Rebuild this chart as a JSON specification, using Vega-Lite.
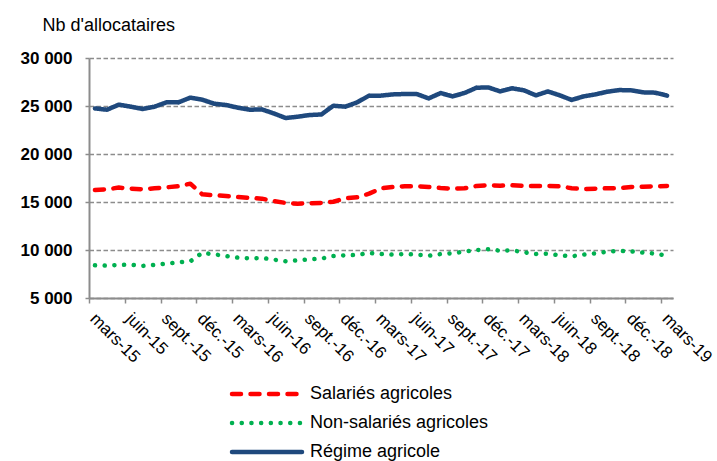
{
  "$schema": "https://vega.github.io/schema/vega-lite/v6.json",
  "autosize": "none",
  "width": 584,
  "height": 240,
  "padding": {"left": 89, "top": 58, "right": 44, "bottom": 163},
  "background": "white",
  "config": {
    "font": "Liberation Sans",
    "view": {"stroke": null}
  },
  "data": {
    "values": [
      {"mois": "mars-15", "Salariés agricoles": 16250, "Non-salariés agricoles": 8400, "Régime agricole": 24750},
      {"mois": "avr.-15", "Salariés agricoles": 16320, "Non-salariés agricoles": 8370, "Régime agricole": 24610},
      {"mois": "mai-15", "Salariés agricoles": 16500, "Non-salariés agricoles": 8440, "Régime agricole": 25140},
      {"mois": "juin-15", "Salariés agricoles": 16390, "Non-salariés agricoles": 8470, "Régime agricole": 24930},
      {"mois": "juil.-15", "Salariés agricoles": 16320, "Non-salariés agricoles": 8340, "Régime agricole": 24690},
      {"mois": "août-15", "Salariés agricoles": 16430, "Non-salariés agricoles": 8450, "Régime agricole": 24930},
      {"mois": "sept.-15", "Salariés agricoles": 16530, "Non-salariés agricoles": 8580, "Régime agricole": 25380},
      {"mois": "oct.-15", "Salariés agricoles": 16640, "Non-salariés agricoles": 8720, "Régime agricole": 25380},
      {"mois": "nov.-15", "Salariés agricoles": 16910, "Non-salariés agricoles": 8820, "Régime agricole": 25870},
      {"mois": "déc.-15", "Salariés agricoles": 15800, "Non-salariés agricoles": 9700, "Régime agricole": 25660},
      {"mois": "janv.-16", "Salariés agricoles": 15700, "Non-salariés agricoles": 9550, "Régime agricole": 25240},
      {"mois": "févr.-16", "Salariés agricoles": 15630, "Non-salariés agricoles": 9370, "Régime agricole": 25100},
      {"mois": "mars-16", "Salariés agricoles": 15520, "Non-salariés agricoles": 9200, "Régime agricole": 24820},
      {"mois": "avr.-16", "Salariés agricoles": 15420, "Non-salariés agricoles": 9130, "Régime agricole": 24610},
      {"mois": "mai-16", "Salariés agricoles": 15350, "Non-salariés agricoles": 9170, "Régime agricole": 24650},
      {"mois": "juin-16", "Salariés agricoles": 15100, "Non-salariés agricoles": 9000, "Régime agricole": 24230},
      {"mois": "juil.-16", "Salariés agricoles": 14900, "Non-salariés agricoles": 8820, "Régime agricole": 23750},
      {"mois": "août-16", "Salariés agricoles": 14830, "Non-salariés agricoles": 8920, "Régime agricole": 23880},
      {"mois": "sept.-16", "Salariés agricoles": 14860, "Non-salariés agricoles": 9030, "Régime agricole": 24060},
      {"mois": "oct.-16", "Salariés agricoles": 14900, "Non-salariés agricoles": 9100, "Régime agricole": 24120},
      {"mois": "nov.-16", "Salariés agricoles": 15030, "Non-salariés agricoles": 9370, "Régime agricole": 25030},
      {"mois": "déc.-16", "Salariés agricoles": 15380, "Non-salariés agricoles": 9450, "Régime agricole": 24930},
      {"mois": "janv.-17", "Salariés agricoles": 15490, "Non-salariés agricoles": 9480, "Régime agricole": 25380},
      {"mois": "févr.-17", "Salariés agricoles": 15870, "Non-salariés agricoles": 9690, "Régime agricole": 26080},
      {"mois": "mars-17", "Salariés agricoles": 16420, "Non-salariés agricoles": 9580, "Régime agricole": 26080},
      {"mois": "avr.-17", "Salariés agricoles": 16570, "Non-salariés agricoles": 9520, "Régime agricole": 26210},
      {"mois": "mai-17", "Salariés agricoles": 16640, "Non-salariés agricoles": 9580, "Régime agricole": 26250},
      {"mois": "juin-17", "Salariés agricoles": 16640, "Non-salariés agricoles": 9520, "Régime agricole": 26250},
      {"mois": "juil.-17", "Salariés agricoles": 16570, "Non-salariés agricoles": 9410, "Régime agricole": 25790},
      {"mois": "août-17", "Salariés agricoles": 16460, "Non-salariés agricoles": 9580, "Régime agricole": 26350},
      {"mois": "sept.-17", "Salariés agricoles": 16390, "Non-salariés agricoles": 9660, "Régime agricole": 26000},
      {"mois": "oct.-17", "Salariés agricoles": 16430, "Non-salariés agricoles": 9830, "Régime agricole": 26350},
      {"mois": "nov.-17", "Salariés agricoles": 16670, "Non-salariés agricoles": 10000, "Régime agricole": 26900},
      {"mois": "déc.-17", "Salariés agricoles": 16740, "Non-salariés agricoles": 10070, "Régime agricole": 26940},
      {"mois": "janv.-18", "Salariés agricoles": 16700, "Non-salariés agricoles": 9930, "Régime agricole": 26520},
      {"mois": "févr.-18", "Salariés agricoles": 16740, "Non-salariés agricoles": 9970, "Régime agricole": 26840},
      {"mois": "mars-18", "Salariés agricoles": 16670, "Non-salariés agricoles": 9760, "Régime agricole": 26630},
      {"mois": "avr.-18", "Salariés agricoles": 16670, "Non-salariés agricoles": 9580, "Régime agricole": 26110},
      {"mois": "mai-18", "Salariés agricoles": 16670, "Non-salariés agricoles": 9620, "Régime agricole": 26520},
      {"mois": "juin-18", "Salariés agricoles": 16640, "Non-salariés agricoles": 9450, "Régime agricole": 26110},
      {"mois": "juil.-18", "Salariés agricoles": 16430, "Non-salariés agricoles": 9340, "Régime agricole": 25630},
      {"mois": "août-18", "Salariés agricoles": 16360, "Non-salariés agricoles": 9520, "Régime agricole": 26000},
      {"mois": "sept.-18", "Salariés agricoles": 16390, "Non-salariés agricoles": 9660, "Régime agricole": 26210},
      {"mois": "oct.-18", "Salariés agricoles": 16430, "Non-salariés agricoles": 9830, "Régime agricole": 26490},
      {"mois": "nov.-18", "Salariés agricoles": 16430, "Non-salariés agricoles": 9900, "Régime agricole": 26660},
      {"mois": "déc.-18", "Salariés agricoles": 16570, "Non-salariés agricoles": 9860, "Régime agricole": 26630},
      {"mois": "janv.-19", "Salariés agricoles": 16600, "Non-salariés agricoles": 9730, "Régime agricole": 26420},
      {"mois": "févr.-19", "Salariés agricoles": 16640, "Non-salariés agricoles": 9620, "Régime agricole": 26390},
      {"mois": "mars-19", "Salariés agricoles": 16670, "Non-salariés agricoles": 9410, "Régime agricole": 26080}
    ]
  },
  "transform": [
    {"fold": ["Salariés agricoles", "Non-salariés agricoles", "Régime agricole"], "as": ["serie", "valeur"]}
  ],
  "mark": {"type": "line", "strokeWidth": 4.5, "strokeCap": "round", "strokeJoin": "round"},
  "encoding": {
    "x": {
      "field": "mois",
      "type": "ordinal",
      "sort": null,
      "scale": {"type": "point", "padding": 0.5},
      "axis": {
        "title": null,
        "values": ["mars-15", "juin-15", "sept.-15", "déc.-15", "mars-16", "juin-16", "sept.-16", "déc.-16", "mars-17", "juin-17", "sept.-17", "déc.-17", "mars-18", "juin-18", "sept.-18", "déc.-18", "mars-19"],
        "domainColor": "#8c8c8c",
        "domainWidth": 2,
        "tickColor": "#8c8c8c",
        "tickWidth": 1.5,
        "tickSize": 5,
        "tickOffset": -5.96,
        "labelOffset": 9,
        "labelAngle": 45,
        "labelAlign": "left",
        "labelBaseline": "top",
        "labelPadding": 7,
        "labelFontSize": 17,
        "labelColor": "#000000",
        "labelFont": "Liberation Sans",
        "grid": false
      }
    },
    "y": {
      "field": "valeur",
      "type": "quantitative",
      "scale": {"domain": [5000, 30000], "nice": false, "zero": false},
      "axis": {
        "values": [5000, 10000, 15000, 20000, 25000, 30000],
        "labelExpr": "replace(format(datum.value, ','), ',', ' ')",
        "title": "Nb d'allocataires",
        "titleAngle": 0,
        "titleX": -47,
        "titleY": -28,
        "titleAlign": "left",
        "titleBaseline": "alphabetic",
        "titleFontSize": 18,
        "titleFontWeight": "normal",
        "titleColor": "#000000",
        "titleFont": "Liberation Sans",
        "labelFontSize": 17,
        "labelFontWeight": "bold",
        "labelColor": "#000000",
        "labelFont": "Liberation Sans",
        "labelPadding": 13,
        "tickSize": 4,
        "tickColor": "#8c8c8c",
        "tickWidth": 1.5,
        "domainColor": "#8c8c8c",
        "domainWidth": 2,
        "grid": true,
        "gridColor": "#8c8c8c",
        "gridWidth": 1.6,
        "gridDash": [4.5, 2.5]
      }
    },
    "color": {
      "field": "serie",
      "type": "nominal",
      "scale": {
        "domain": ["Salariés agricoles", "Non-salariés agricoles", "Régime agricole"],
        "range": ["#ff0000", "#00b050", "#1f497d"]
      },
      "legend": {
        "title": null,
        "orient": "none",
        "legendX": 169,
        "legendY": 327,
        "direction": "vertical",
        "padding": 0,
        "symbolType": "M-7,0L7,0",
        "symbolSize": 100,
        "symbolStrokeWidth": 4.5,
        "labelOffset": 34,
        "labelLimit": 0,
        "labelFontSize": 18,
        "labelColor": "#000000",
        "labelFont": "Liberation Sans",
        "rowPadding": 11,
        "encode": {"symbols": {"update": {"strokeCap": {"value": "round"}}}}
      }
    },
    "strokeDash": {
      "field": "serie",
      "type": "nominal",
      "scale": {
        "domain": ["Salariés agricoles", "Non-salariés agricoles", "Régime agricole"],
        "range": [[9, 9.5], [0.1, 9.6], [1, 0]]
      },
      "legend": {
        "title": null,
        "orient": "none",
        "legendX": 169,
        "legendY": 327,
        "direction": "vertical",
        "padding": 0,
        "symbolType": "M-7,0L7,0",
        "symbolSize": 100,
        "symbolStrokeWidth": 4.5,
        "labelOffset": 34,
        "labelLimit": 0,
        "labelFontSize": 18,
        "labelColor": "#000000",
        "labelFont": "Liberation Sans",
        "rowPadding": 11,
        "encode": {"symbols": {"update": {"strokeCap": {"value": "round"}}}}
      }
    }
  }
}
